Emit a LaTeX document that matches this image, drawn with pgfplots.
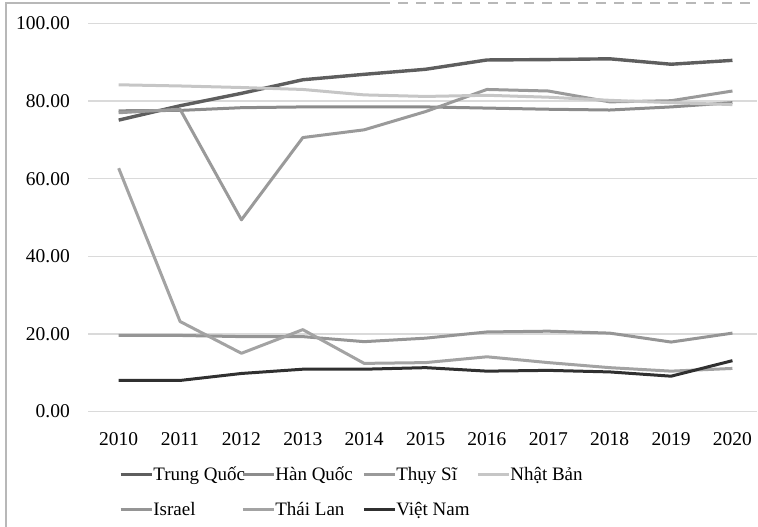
\documentclass[border=0pt]{standalone}
\usepackage{fontspec}
\setmainfont{Liberation Serif}
\usepackage{pgfplots}
\pgfplotsset{compat=1.18}

\definecolor{cTQ}{HTML}{5E5E5E}
\definecolor{cHQ}{HTML}{8C8C8C}
\definecolor{cTS}{HTML}{9A9A9A}
\definecolor{cNB}{HTML}{C6C6C6}
\definecolor{cIS}{HTML}{959595}
\definecolor{cTL}{HTML}{A3A3A3}
\definecolor{cVN}{HTML}{303030}
\definecolor{gridc}{HTML}{DADADA}
\definecolor{framec}{HTML}{B8B8B8}

\begin{document}
\begin{tikzpicture}[x=1pt,y=1pt]
\fontsize{19}{23}\selectfont
% outer frame (left and top edges)
\draw[framec, line width=1.5pt] (6,0) -- (6,524) -- (380,524);
\draw[framec, line width=1.5pt, dash pattern=on 10pt off 8pt] (380,524) -- (758,524);

\begin{axis}[
  at={(88pt,115.5pt)}, anchor=south west,
  scale only axis, width=669pt, height=388pt,
  xmin=2009.5, xmax=2020.4, ymin=0, ymax=100,
  xtick={2010,...,2020},
  xticklabels={2010,2011,2012,2013,2014,2015,2016,2017,2018,2019,2020},
  ytick={0,20,...,100},
  yticklabel style={/pgf/number format/fixed, /pgf/number format/fixed zerofill,
    /pgf/number format/precision=2, /pgf/number format/assume math mode=true,
    inner sep=0pt, anchor=east, xshift=-18pt},
  xticklabel style={inner sep=0pt, anchor=north, yshift=-21pt},
  tick label style={font=\fontsize{19.5}{23}\selectfont},
  axis line style={draw=none},
  major tick length=0pt,
  ymajorgrids, grid style={gridc, line width=1.5pt},
  every axis plot/.append style={line width=3pt, line join=round, mark=none},
  legend columns=4,
  legend style={at={(axis description cs:0.046,-0.141)}, anchor=north west,
    draw=none, fill=none, inner sep=0pt, row sep=19pt,
    nodes={inner sep=0pt}, cells={anchor=base west},
    font=\fontsize{19}{23}\selectfont},
  % the line sits at mid-cap height, just above the baseline of its entry
  legend image code/.code={\path (0pt,0pt); \draw[#1] (0pt,5.5pt) -- (31pt,5.5pt);},
]
\addplot[cTQ, line width=3.4pt] coordinates {(2010,75.1) (2011,78.8) (2012,82.0) (2013,85.5) (2014,86.9) (2015,88.2) (2016,90.6) (2017,90.7) (2018,90.9) (2019,89.5) (2020,90.5)};
\addlegendentry{\makebox[88pt][l]{Trung Quốc}}
\addplot[cHQ] coordinates {(2010,77.5) (2011,77.6) (2012,78.3) (2013,78.5) (2014,78.5) (2015,78.5) (2016,78.2) (2017,77.9) (2018,77.7) (2019,78.5) (2020,79.6)};
\addlegendentry{\makebox[87pt][l]{Hàn Quốc}}
\addplot[cTS] coordinates {(2010,77.0) (2011,77.9) (2012,49.4) (2013,70.6) (2014,72.6) (2015,77.3) (2016,83.0) (2017,82.6) (2018,79.8) (2019,80.1) (2020,82.6)};
\addlegendentry{\makebox[80pt][l]{Thụy Sĩ}}
\addplot[cNB] coordinates {(2010,84.2) (2011,83.9) (2012,83.5) (2013,83.0) (2014,81.6) (2015,81.2) (2016,81.5) (2017,81.0) (2018,80.2) (2019,79.6) (2020,79.1)};
\addlegendentry{Nhật Bản}
\addplot[cIS] coordinates {(2010,19.6) (2011,19.6) (2012,19.3) (2013,19.3) (2014,18.0) (2015,18.9) (2016,20.5) (2017,20.7) (2018,20.2) (2019,17.9) (2020,20.2)};
\addlegendentry{\makebox[88pt][l]{Israel}}
\addplot[cTL] coordinates {(2010,62.7) (2011,23.2) (2012,15.0) (2013,21.1) (2014,12.4) (2015,12.6) (2016,14.1) (2017,12.6) (2018,11.3) (2019,10.4) (2020,11.1)};
\addlegendentry{\makebox[87pt][l]{Thái Lan}}
\addplot[cVN] coordinates {(2010,8.0) (2011,8.0) (2012,9.8) (2013,10.9) (2014,10.9) (2015,11.3) (2016,10.4) (2017,10.6) (2018,10.2) (2019,9.1) (2020,13.1)};
\addlegendentry{\makebox[80pt][l]{Việt Nam}}
\end{axis}
\pgfresetboundingbox
\useasboundingbox (0,0) rectangle (758,527);
\end{tikzpicture}
\end{document}
